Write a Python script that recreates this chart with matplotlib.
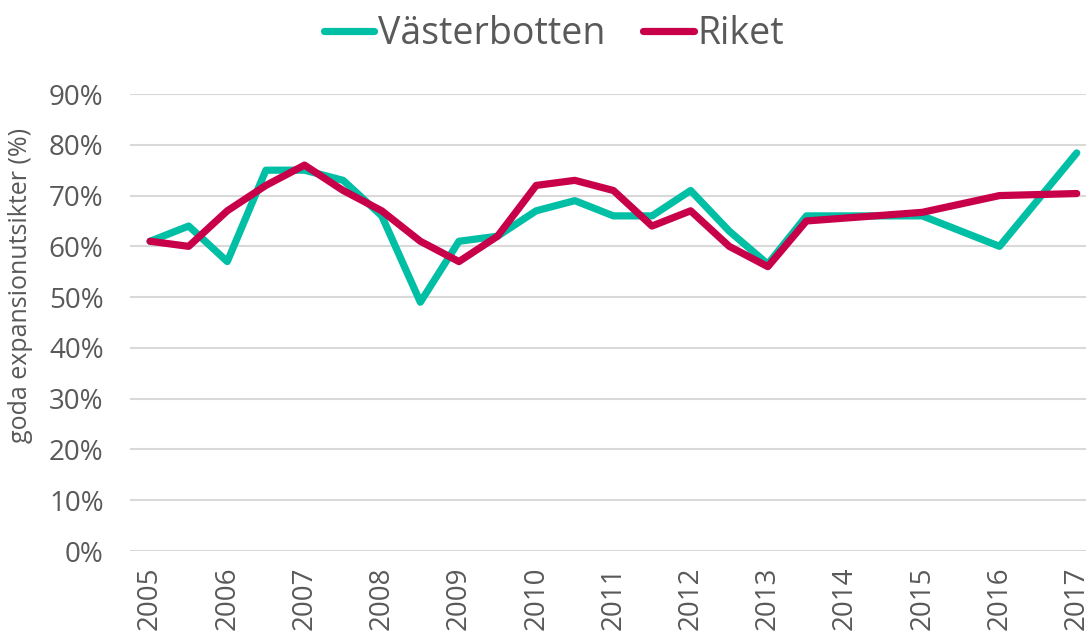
import matplotlib
matplotlib.use('Agg')
import matplotlib.pyplot as plt
from matplotlib.ticker import FuncFormatter

# half-year observations, yearly after 2013.5
x_vbn = [2005, 2005.5, 2006, 2006.5, 2007, 2007.5, 2008, 2008.5, 2009, 2009.5,
         2010, 2010.5, 2011, 2011.5, 2012, 2012.5, 2013, 2013.5, 2015, 2016, 2017]
vasterbotten = [61, 64, 57, 75, 75, 73, 66, 49, 61, 62,
                67, 69, 66, 66, 71, 63, 56.5, 66, 66, 60, 78.4]

x_riket = x_vbn
riket = [61, 60, 67, 72, 76, 71, 67, 61, 57, 62,
         72, 73, 71, 64, 67, 60, 56, 65, 66.7, 70, 70.4]

years = list(range(2005, 2018))
y_ticks = list(range(0, 100, 10))

TEAL = '#00BFA5'
RED = '#C8004A'
GREY = '#595959'

plt.rcParams['font.family'] = ['Open Sans', 'DejaVu Sans']

fig = plt.figure(figsize=(10.86, 6.37), dpi=100)
ax = fig.add_axes([0.1197, 0.135, 0.8803, 0.7174])

ax.plot(x_vbn, vasterbotten, color=TEAL, lw=5.2, solid_capstyle='round',
        solid_joinstyle='round', label='Västerbotten')
ax.plot(x_riket, riket, color=RED, lw=5.2, solid_capstyle='round',
        solid_joinstyle='round', label='Riket')

ax.set_xlim(2004.74, 2017.12)
ax.set_ylim(0, 90)
ax.set_yticks(y_ticks)
ax.yaxis.set_major_formatter(FuncFormatter(lambda v, p: '%d%%' % v))
ax.set_xticks(years)
ax.set_xticklabels([str(y) for y in years], rotation=90)

ax.grid(axis='y', color='#D9D9D9', lw=1.5)
ax.set_axisbelow(True)
for s in ax.spines.values():
    s.set_visible(False)
ax.tick_params(length=0, labelsize=20, colors=GREY)
ax.tick_params(axis='y', pad=19)
ax.tick_params(axis='x', pad=11)

ax.set_ylabel('goda expansionutsikter (%)', fontsize=18, color=GREY)
ax.yaxis.set_label_coords(-0.1015, 0.582)

fig.legend(loc='center', bbox_to_anchor=(0.51, 1 - 34 / 637), ncol=2, frameon=False,
           fontsize=27, labelcolor=GREY, handlelength=1.35, handletextpad=0.1,
           columnspacing=1.0)

fig.savefig('out.png', dpi=100)
